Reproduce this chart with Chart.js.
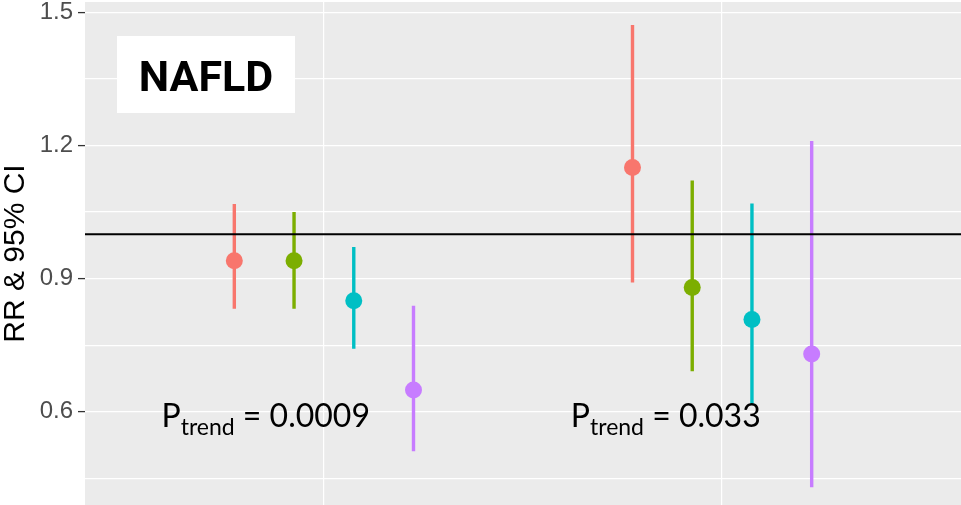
<!DOCTYPE html>
<html>
<head>
<meta charset="utf-8">
<script src="https://cdn.jsdelivr.net/npm/chart.js@4/dist/chart.umd.min.js"></script>
<style>
  html, body { margin: 0; padding: 0; background: #ffffff; }
  #wrap { width: 961px; height: 505px; position: relative; }
</style>
</head>
<body>
<div id="wrap"><canvas id="c"></canvas></div>
<script>
// Two study groups on the x axis, four exposure categories dodged within each.
const groups = ['Group 1', 'Group 2'];
const categories = ['Q1', 'Q2', 'Q3', 'Q4'];
const colours = ['#F8766D', '#7CAE00', '#00BFC4', '#C77CFF'];

// Relative risk and 95% confidence limits, one entry per group.
const rrQ1 = [0.94, 1.15];
const loQ1 = [0.832, 0.891];
const hiQ1 = [1.068, 1.471];

const rrQ2 = [0.94, 0.88];
const loQ2 = [0.832, 0.691];
const hiQ2 = [1.050, 1.121];

const rrQ3 = [0.85, 0.808];
const loQ3 = [0.742, 0.616];
const hiQ3 = [0.971, 1.069];

const rrQ4 = [0.649, 0.730];
const loQ4 = [0.511, 0.430];
const hiQ4 = [0.839, 1.210];

const pTrend = ['0.0009', '0.033'];

const referenceRR = 1.0;
const majorTicks = [0.6, 0.9, 1.2, 1.5];
const minorTicks = [0.45, 0.75, 1.05, 1.35];

const rr = [rrQ1, rrQ2, rrQ3, rrQ4];
const lo = [loQ1, loQ2, loQ3, loQ4];
const hi = [hiQ1, hiQ2, hiQ3, hiQ4];

// dodge positions: categories spread across 0.6 of a group slot
const DODGE = 0.15;
const xPos = (g, s) => g + 1 + (s - (categories.length - 1) / 2) * DODGE;

const datasets = [];
// vertical confidence-interval segments
categories.forEach((cat, s) => {
  const pts = [];
  groups.forEach((grp, g) => {
    pts.push({ x: xPos(g, s), y: lo[s][g] });
    pts.push({ x: xPos(g, s), y: hi[s][g] });
    pts.push({ x: xPos(g, s), y: null });
  });
  datasets.push({
    type: 'line', label: cat + ' CI', data: pts,
    borderColor: colours[s], borderWidth: 3.4, pointRadius: 0,
    spanGaps: false, order: 2, borderCapStyle: 'butt'
  });
});
// point estimates
categories.forEach((cat, s) => {
  datasets.push({
    type: 'scatter', label: cat,
    data: groups.map((grp, g) => ({ x: xPos(g, s), y: rr[s][g] })),
    backgroundColor: colours[s], borderWidth: 0, pointRadius: 8.5,
    pointHoverRadius: 8.5, order: 1
  });
});

// grey panel behind the plotting area
const panelBg = {
  id: 'panelBg',
  beforeDraw(chart) {
    const { ctx, chartArea: a } = chart;
    ctx.save();
    ctx.fillStyle = '#EBEBEB';
    ctx.fillRect(a.left, a.top, a.right - a.left, a.bottom - a.top);
    ctx.restore();
  }
};

// reference line at RR = 1, title box and trend p-values
const overlays = {
  id: 'overlays',
  afterDatasetsDraw(chart) {
    const { ctx, chartArea: a, scales: { x, y } } = chart;
    ctx.save();
    const yr = y.getPixelForValue(referenceRR);
    ctx.strokeStyle = '#000000';
    ctx.lineWidth = 2;
    ctx.beginPath();
    ctx.moveTo(a.left, yr);
    ctx.lineTo(a.right, yr);
    ctx.stroke();

    // title box
    ctx.fillStyle = '#ffffff';
    ctx.fillRect(a.left + 32, a.top + 34, 178, 77);
    ctx.fillStyle = '#000000';
    ctx.font = 'bold 43px Roboto';
    ctx.textAlign = 'center';
    ctx.textBaseline = 'alphabetic';
    ctx.fillText('NAFLD', a.left + 32 + 89, a.top + 89);

    // P_trend labels, one per group
    ctx.textAlign = 'left';
    const anchorsX = [0.592, 1.62];
    const baseV = 0.566;
    pTrend.forEach((p, g) => {
      let px = x.getPixelForValue(anchorsX[g]);
      const py = y.getPixelForValue(baseV);
      ctx.font = '32px Lato';
      ctx.fillText('P', px, py);
      px += ctx.measureText('P').width;
      ctx.font = '23px Lato';
      ctx.fillText('trend', px, py + 8);
      px += ctx.measureText('trend').width;
      ctx.font = '32px Lato';
      ctx.fillText(' = ' + p, px, py);
    });
    ctx.restore();
  }
};

new Chart(document.getElementById('c'), {
  data: { datasets },
  options: {
    responsive: true,
    maintainAspectRatio: false,
    animation: false,
    layout: { autoPadding: false, padding: { top: 2, left: 0, right: 0, bottom: 0 } },
    plugins: { legend: { display: false }, tooltip: { enabled: false } },
    scales: {
      x: {
        type: 'linear', min: 0.4, max: 2.6,
        afterBuildTicks(scale) {
          scale.ticks = groups.map((g, i) => ({ value: i + 1 }));
        },
        afterFit(scale) {
          scale.height = 0;
          scale.paddingLeft = 0; scale.paddingRight = 0;
        },
        ticks: { display: false },
        grid: { color: '#ffffff', lineWidth: 1.2, drawTicks: false },
        border: { display: false }
      },
      y: {
        type: 'linear', min: 0.39, max: 1.523,
        afterBuildTicks(scale) {
          scale.ticks = minorTicks.concat(majorTicks).sort((a, b) => a - b)
            .map(v => ({ value: v }));
        },
        afterFit(scale) {
          scale.width = 85;
          scale.paddingTop = 0; scale.paddingBottom = 0;
        },
        ticks: {
          padding: 5,
          color: '#4D4D4D',
          font: { family: 'Liberation Sans', size: 24 },
          callback: (v) => majorTicks.some(m => Math.abs(m - v) < 1e-9) ? v.toFixed(1) : ''
        },
        grid: {
          color: '#ffffff', lineWidth: 1.2, tickLength: 7, tickWidth: 1.3,
          tickColor: (ctx) => majorTicks.some(m => Math.abs(m - ctx.tick.value) < 1e-9) ? '#333333' : 'rgba(0,0,0,0)'
        },
        border: { display: false },
        title: {
          display: true, text: 'RR & 95% CI', color: '#000000',
          font: { family: 'Liberation Sans', size: 30, lineHeight: 1 },
          padding: { top: 1, bottom: 0 }
        }
      }
    }
  },
  plugins: [panelBg, overlays]
});
</script>
</body>
</html>
